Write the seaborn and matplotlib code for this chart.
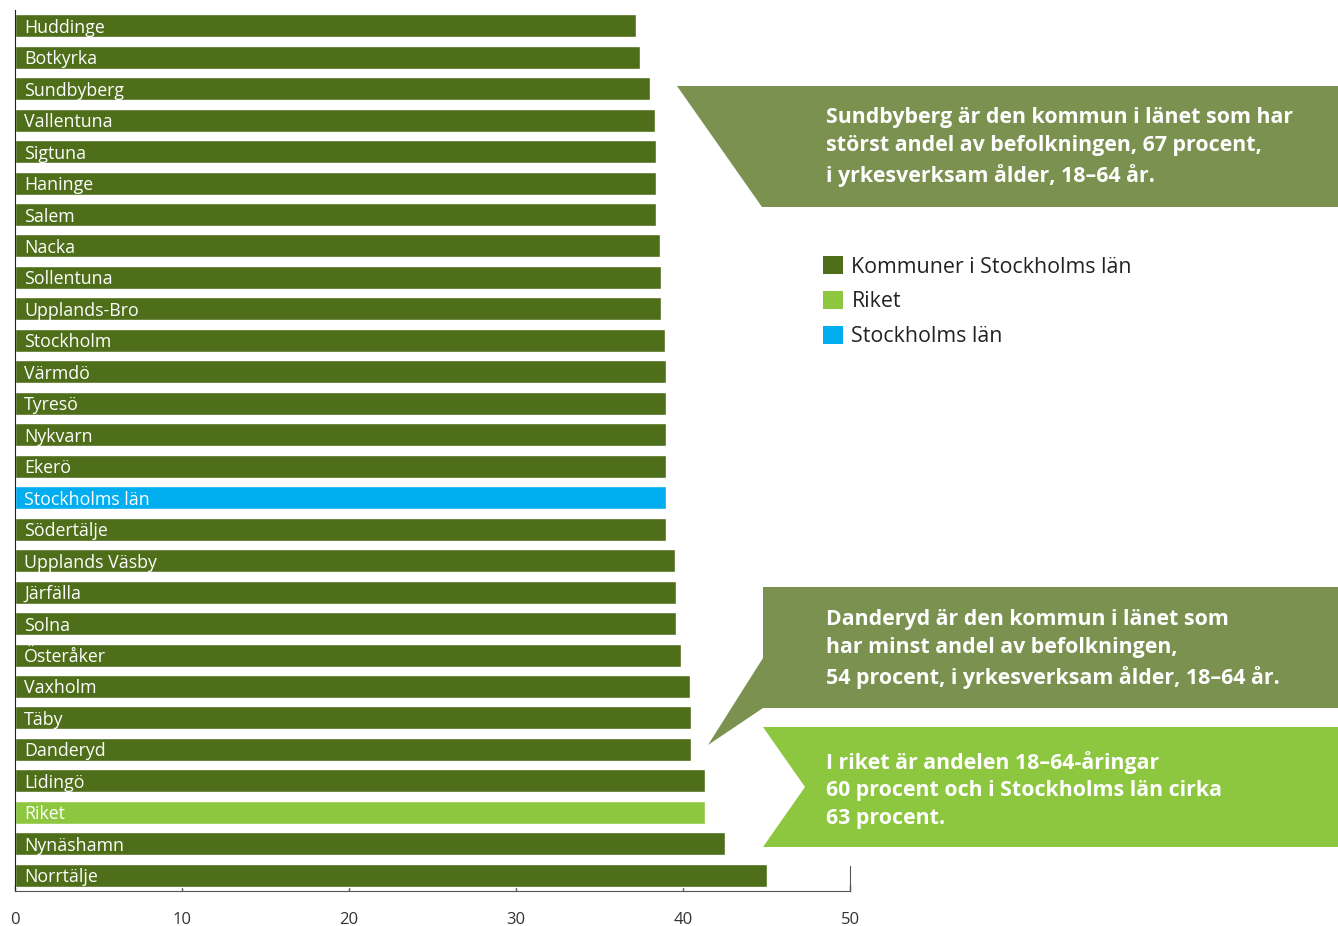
import numpy as np
import pandas as pd
import seaborn as sns
import matplotlib.pyplot as plt
from matplotlib.patches import Polygon, Patch

names = ["Huddinge", "Botkyrka", "Sundbyberg", "Vallentuna", "Sigtuna", "Haninge",
         "Salem", "Nacka", "Sollentuna", "Upplands-Bro", "Stockholm", "Värmdö",
         "Tyresö", "Nykvarn", "Ekerö", "Stockholms län", "Södertälje", "Upplands Väsby",
         "Järfälla", "Solna", "Österåker", "Vaxholm", "Täby", "Danderyd", "Lidingö",
         "Riket", "Nynäshamn", "Norrtälje"]
values = [37.2, 37.4, 38.0, 38.3, 38.4, 38.4, 38.4, 38.6, 38.7, 38.7, 38.9, 39.0,
          39.0, 39.0, 39.0, 39.0, 39.0, 39.5, 39.6, 39.6, 39.9, 40.4, 40.5, 40.5,
          41.3, 41.3, 42.5, 45.0]
groups = ["Riket" if n == "Riket" else "Stockholms län" if n == "Stockholms län"
          else "Kommuner i Stockholms län" for n in names]
legend_labels = ["Kommuner i Stockholms län", "Riket", "Stockholms län"]
xticks = [0, 10, 20, 30, 40, 50]

colors = {"Kommuner i Stockholms län": "#4e6e1a", "Riket": "#8dc63f",
          "Stockholms län": "#00aeef"}
callout_dark = "#7b9150"

df = pd.DataFrame({"namn": names, "varde": values, "grupp": groups})

sns.set_style("white")
plt.rcParams['font.family'] = ['Open Sans', 'DejaVu Sans']

fig = plt.figure(figsize=(13.38, 9.26), dpi=100)
ax = fig.add_axes([15/1338, 1 - 891/926, 835/1338, 881/926])

sns.barplot(data=df, x="varde", y="namn", hue="grupp", palette=colors,
            dodge=False, orient="h", width=0.73, legend=False, ax=ax, saturation=1)

for i, n in enumerate(names):
    ax.text(0.55, i, n, color="white", fontsize=12.8, va="center_baseline", ha="left")

ax.set_xlim(0, 50)
ax.set_ylim(len(names) - 0.5, -0.5)
ax.set_xticks(xticks)
ax.set_xticklabels([str(t) for t in xticks], fontsize=12, color="#333333")
ax.set_yticks([])
ax.set_xlabel("")
ax.set_ylabel("")
ax.tick_params(axis="x", direction="in", length=4, width=1, color="#555555", pad=15, bottom=True)
ax.spines["top"].set_visible(False)
ax.spines["left"].set_color("#222222")
ax.spines["bottom"].set_color("#555555")
ax.spines["right"].set_color("#555555")
ax.spines["right"].set_bounds(len(names) - 0.5, len(names) - 1.3)

# overlay for callout boxes, in pixel coordinates
ov = fig.add_axes([0, 0, 1, 1], zorder=5)
ov.set_xlim(0, 1338)
ov.set_ylim(926, 0)
ov.axis("off")
ov.patch.set_alpha(0)

ov.add_patch(Polygon([(677, 86), (1338, 86), (1338, 207), (762, 207)],
                     closed=True, color=callout_dark, lw=0))
ov.add_patch(Polygon([(763, 587), (1338, 587), (1338, 708), (763, 708), (708, 745), (763, 658)],
                     closed=True, color=callout_dark, lw=0))
ov.add_patch(Polygon([(763, 727), (1338, 727), (1338, 847), (763, 847), (805, 787)],
                     closed=True, color="#8dc63f", lw=0))

txt = dict(color="white", fontsize=15.4, fontweight="bold", va="center", ha="left",
           linespacing=1.42)
ov.text(826, 147, "Sundbyberg är den kommun i länet som har\n"
                  "störst andel av befolkningen, 67 procent,\n"
                  "i yrkesverksam ålder, 18\u201364 år.", **txt)
ov.text(826, 649, "Danderyd är den kommun i länet som\n"
                  "har minst andel av befolkningen,\n"
                  "54 procent, i yrkesverksam ålder, 18\u201364 år.", **txt)
ov.text(826, 790, "I riket är andelen 18\u201364-åringar\n"
                  "60 procent och i Stockholms län cirka\n"
                  "63 procent.", **txt)

handles = [Patch(facecolor=colors[g], edgecolor="none") for g in legend_labels]
fig.legend(handles, legend_labels, loc="upper left", bbox_to_anchor=(823/1338, 1 - 256/926),
           frameon=False, fontsize=15.4, handlelength=0.95, handleheight=0.95,
           handletextpad=0.38, labelspacing=0.62, borderpad=0, borderaxespad=0,
           labelcolor="#222222")

fig.savefig("out.png", dpi=100)
